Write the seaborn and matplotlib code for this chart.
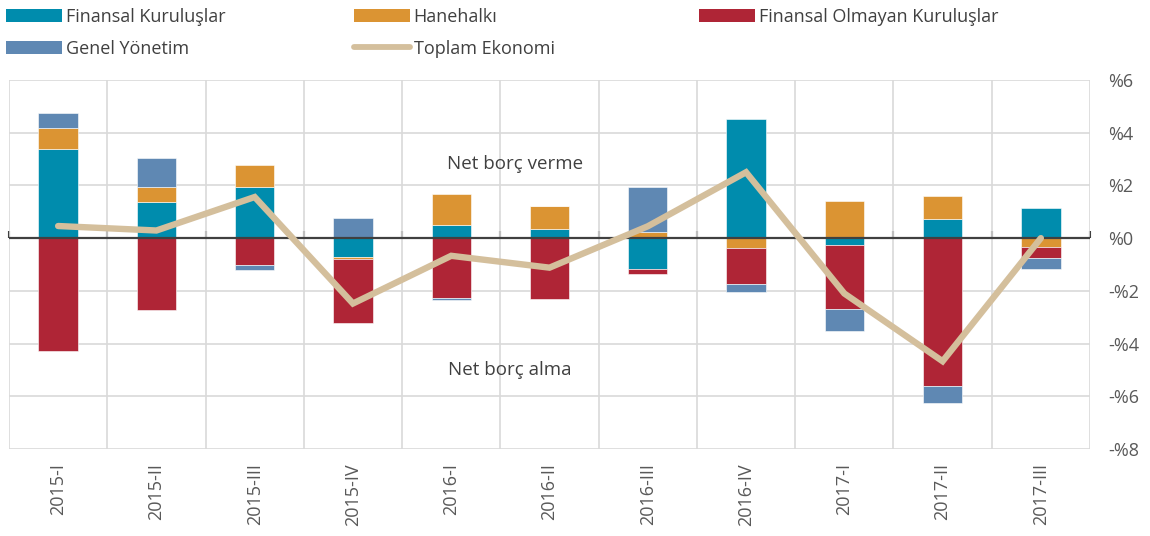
import numpy as np
import pandas as pd
import matplotlib
matplotlib.use("Agg")
import matplotlib.pyplot as plt
import seaborn as sns
from matplotlib.patches import Patch
from matplotlib.lines import Line2D

# data (% of GDP)
quarters = ["2015-I", "2015-II", "2015-III", "2015-IV", "2016-I", "2016-II",
            "2016-III", "2016-IV", "2017-I", "2017-II", "2017-III"]
finansal = [3.37, 1.36, 1.95, -0.71, 0.48, 0.34, -1.18, 4.53, -0.27, 0.73, 1.15]
hanehalki = [0.81, 0.59, 0.83, -0.07, 1.20, 0.88, 0.22, -0.36, 1.40, 0.88, -0.33]
finansal_olmayan = [-4.28, -2.72, -1.02, -2.45, -2.28, -2.29, -0.19, -1.38, -2.42, -5.60, -0.41]
genel_yonetim = [0.56, 1.08, -0.20, 0.77, -0.08, 0.0, 1.72, -0.29, -0.82, -0.67, -0.42]
toplam = [0.46, 0.29, 1.56, -2.48, -0.67, -1.12, 0.45, 2.50, -2.10, -4.67, 0.0]

yticks = [6, 4, 2, 0, -2, -4, -6, -8]
ytick_labels = ["%6", "%4", "%2", "%0", "-%2", "-%4", "-%6", "-%8"]

series = [
    ("Finansal Kuruluşlar", finansal, "#008CAD"),
    ("Hanehalkı", hanehalki, "#DB9433"),
    ("Finansal Olmayan Kuruluşlar", finansal_olmayan, "#AF2536"),
    ("Genel Yönetim", genel_yonetim, "#5F88B3"),
]
line_color = "#D4BF9C"

sns.set_style("white")
plt.rcParams["font.family"] = ["Open Sans", "DejaVu Sans"]

fig = plt.figure(figsize=(11.5, 5.36), dpi=100)
ax = fig.add_axes([9 / 1150, 87 / 536, 1081 / 1150, 369 / 536])

# stacked bars, positives and negatives stacked separately
pos_base = np.zeros(len(quarters))
neg_base = np.zeros(len(quarters))
for name, vals, col in series:
    v = np.array(vals)
    bottom = np.where(v >= 0, pos_base, neg_base)
    df = pd.DataFrame({"q": quarters, "v": v})
    sns.barplot(data=df, x="q", y="v", bottom=bottom, color=col, width=0.4,
                edgecolor="white", linewidth=0.4, saturation=1, ax=ax,
                zorder=2)
    pos_base = pos_base + np.where(v >= 0, v, 0)
    neg_base = neg_base + np.where(v < 0, v, 0)

sns.lineplot(x=np.arange(len(quarters)), y=toplam, color=line_color,
             linewidth=4.6, solid_capstyle="round", solid_joinstyle="miter",
             ax=ax, zorder=4)

ax.set_xlim(-0.5, len(quarters) - 0.5)
ax.set_ylim(-8, 6)
ax.set_xlabel("")
ax.set_ylabel("")

for s in ax.spines.values():
    s.set_visible(False)

# grid: horizontal at y ticks, vertical at category boundaries
ax.set_yticks(yticks)
ax.set_yticklabels(ytick_labels)
ax.yaxis.tick_right()
ax.set_xticks(np.arange(len(quarters)))
ax.set_xticklabels(quarters, rotation=90)
ax.set_xticks(np.arange(-0.5, len(quarters)), minor=True)
ax.grid(axis="y", which="major", color="#D9D9D9", linewidth=1.2, zorder=0)
ax.grid(axis="x", which="minor", color="#D9D9D9", linewidth=1.2, zorder=0)
ax.set_axisbelow(True)
ax.tick_params(axis="y", length=0, pad=13, labelsize=13, labelcolor="#595959")
ax.tick_params(axis="x", which="major", length=0, pad=10, labelsize=13,
               labelcolor="#595959")
ax.tick_params(axis="x", which="minor", length=0)

# zero line with small tick marks at category boundaries
zero_pos = (0 - (-8)) / (6 - (-8))
sec = ax.secondary_xaxis(zero_pos)
sec.set_xticks(np.arange(-0.5, len(quarters)))
sec.set_xticklabels([])
sec.tick_params(direction="out", length=5, width=1.5, color="#404040")
sec.spines["bottom"].set_visible(False)
sec.spines["top"].set_visible(False)
ax.axhline(0, color="#404040", linewidth=1.6, zorder=3)

ax.text(4.65, 2.8, "Net borç verme", fontsize=13.5, color="#404040",
        ha="center", va="center")
ax.text(4.6, -5.0, "Net borç alma", fontsize=13.5, color="#404040",
        ha="center", va="center")

# legend in three fixed columns
def handle(i):
    return Patch(facecolor=series[i][2], edgecolor="none")

toplam_handle = Line2D([], [], color=line_color, linewidth=4.2,
                       solid_capstyle="round")
leg_kw = dict(loc="upper left", frameon=False, fontsize=13, handlelength=3.1,
              handleheight=0.7, handletextpad=0.2, labelspacing=0.75,
              borderaxespad=0, borderpad=0, labelcolor="#404040")
top = 1 - 8 / 536
fig.legend([handle(0), handle(3)], [series[0][0], series[3][0]],
           bbox_to_anchor=(6 / 1150, top), **leg_kw)
fig.legend([handle(1), toplam_handle], [series[1][0], "Toplam Ekonomi"],
           bbox_to_anchor=(354 / 1150, top), **leg_kw)
fig.legend([handle(2)], [series[2][0]],
           bbox_to_anchor=(699 / 1150, top), **leg_kw)

fig.savefig("out.png", dpi=100)
